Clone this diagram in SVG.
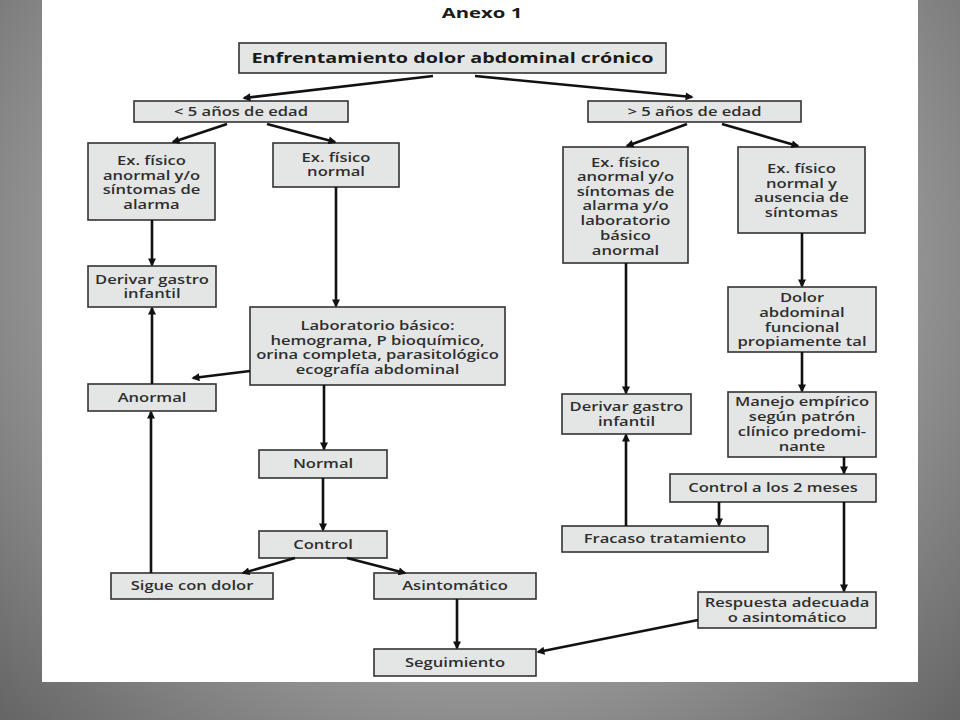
<svg xmlns="http://www.w3.org/2000/svg" width="960" height="720" viewBox="0 0 960 720">
<defs>
<radialGradient id="bg" cx="480" cy="260" r="720" gradientUnits="userSpaceOnUse">
<stop offset="0" stop-color="#b8b8b8"/>
<stop offset="0.55" stop-color="#9a9a9a"/>
<stop offset="1" stop-color="#5a5a5a"/>
</radialGradient>
<marker id="ah" viewBox="0 0 10 10" refX="8" refY="5" markerWidth="9" markerHeight="8" markerUnits="userSpaceOnUse" orient="auto">
<path d="M0,0 L10,5 L0,10 z" fill="#111"/>
</marker>
<style>
.box{fill:#e4e6e6;stroke:#333;stroke-width:1.6}
.t{font-family:"Open Sans","Liberation Sans",sans-serif;font-weight:600;font-size:12px;fill:#2e2e2e;text-anchor:middle}
.b{font-family:"Open Sans","Liberation Sans",sans-serif;font-weight:700;font-size:14px;fill:#1a1a1a;text-anchor:middle}
.c line{stroke:#111;stroke-width:2.6;fill:none}
.c .a{marker-end:url(#ah)}
</style>
</defs>
<rect x="0" y="0" width="960" height="720" fill="url(#bg)"/>
<rect x="42" y="0" width="876" height="682" fill="#ffffff"/>

<text class="b" transform="matrix(1.45 0 0 1 482 0)" font-size="13"><tspan x="0" y="18">Anexo 1</tspan></text>

<g id="n-main"><rect class="box" x="239" y="43" width="427" height="30"/>
<text class="b" transform="matrix(1.41 0 0 1 452.5 0)"><tspan x="0" y="63">Enfrentamiento dolor abdominal crónico</tspan></text></g>

<g id="n-menor5"><rect class="box" x="134" y="101" width="214" height="21"/>
<text class="t" transform="matrix(1.38 0 0 1 241 0)"><tspan x="0" y="116">&lt; 5 años de edad</tspan></text></g>

<g id="n-mayor5"><rect class="box" x="588" y="101" width="213" height="21"/>
<text class="t" transform="matrix(1.38 0 0 1 694.5 0)"><tspan x="0" y="116">&gt; 5 años de edad</tspan></text></g>

<g id="n-a1"><rect class="box" x="88" y="143" width="127" height="77"/>
<text class="t" transform="matrix(1.38 0 0 1 151.5 0)"><tspan x="0" y="165.5">Ex. físico</tspan><tspan x="0" y="180">anormal y/o</tspan><tspan x="0" y="194.5">síntomas de</tspan><tspan x="0" y="209">alarma</tspan></text></g>

<g id="n-a2"><rect class="box" x="273" y="143" width="126" height="44"/>
<text class="t" transform="matrix(1.38 0 0 1 336 0)"><tspan x="0" y="162">Ex. físico</tspan><tspan x="0" y="176.5">normal</tspan></text></g>

<g id="n-derivar1"><rect class="box" x="88" y="266" width="128" height="41"/>
<text class="t" transform="matrix(1.38 0 0 1 152 0)"><tspan x="0" y="284">Derivar gastro</tspan><tspan x="0" y="298.5">infantil</tspan></text></g>

<g id="n-lab"><rect class="box" x="250" y="307" width="255" height="78"/>
<text class="t" transform="matrix(1.38 0 0 1 377.5 0)"><tspan x="0" y="330.5">Laboratorio básico:</tspan><tspan x="0" y="345">hemograma, P bioquímico,</tspan><tspan x="0" y="359.5">orina completa, parasitológico</tspan><tspan x="0" y="374.5">ecografía abdominal</tspan></text></g>

<g id="n-anormal"><rect class="box" x="88" y="384" width="128" height="27"/>
<text class="t" transform="matrix(1.38 0 0 1 152 0)"><tspan x="0" y="402">Anormal</tspan></text></g>

<g id="n-normal"><rect class="box" x="259" y="450" width="128" height="28"/>
<text class="t" transform="matrix(1.38 0 0 1 323 0)"><tspan x="0" y="468.5">Normal</tspan></text></g>

<g id="n-control"><rect class="box" x="259" y="531" width="128" height="27"/>
<text class="t" transform="matrix(1.38 0 0 1 323 0)"><tspan x="0" y="549">Control</tspan></text></g>

<g id="n-sigue"><rect class="box" x="111" y="573" width="162" height="26"/>
<text class="t" transform="matrix(1.38 0 0 1 192 0)"><tspan x="0" y="590.5">Sigue con dolor</tspan></text></g>

<g id="n-asint"><rect class="box" x="374" y="573" width="162" height="26"/>
<text class="t" transform="matrix(1.38 0 0 1 455 0)"><tspan x="0" y="590.5">Asintomático</tspan></text></g>

<g id="n-seguimiento"><rect class="box" x="374" y="649" width="162" height="27"/>
<text class="t" transform="matrix(1.38 0 0 1 455 0)"><tspan x="0" y="667">Seguimiento</tspan></text></g>

<g id="n-b1"><rect class="box" x="563" y="147" width="125" height="116"/>
<text class="t" transform="matrix(1.38 0 0 1 625.5 0)"><tspan x="0" y="167">Ex. físico</tspan><tspan x="0" y="181.5">anormal y/o</tspan><tspan x="0" y="196">síntomas de</tspan><tspan x="0" y="210.5">alarma y/o</tspan><tspan x="0" y="225">laboratorio</tspan><tspan x="0" y="240">básico</tspan><tspan x="0" y="255">anormal</tspan></text></g>

<g id="n-b2"><rect class="box" x="738" y="147" width="127" height="86"/>
<text class="t" transform="matrix(1.38 0 0 1 801.5 0)"><tspan x="0" y="173.5">Ex. físico</tspan><tspan x="0" y="188">normal y</tspan><tspan x="0" y="202.5">ausencia de</tspan><tspan x="0" y="217">síntomas</tspan></text></g>

<g id="n-dolor"><rect class="box" x="728" y="287" width="148" height="65"/>
<text class="t" transform="matrix(1.38 0 0 1 802 0)"><tspan x="0" y="302.5">Dolor</tspan><tspan x="0" y="317.5">abdominal</tspan><tspan x="0" y="332">funcional</tspan><tspan x="0" y="346.5">propiamente tal</tspan></text></g>

<g id="n-manejo"><rect class="box" x="728" y="392" width="148" height="65"/>
<text class="t" transform="matrix(1.38 0 0 1 802 0)"><tspan x="0" y="406.5">Manejo empírico</tspan><tspan x="0" y="421.5">según patrón</tspan><tspan x="0" y="436.5">clínico predomi-</tspan><tspan x="0" y="451">nante</tspan></text></g>

<g id="n-derivar2"><rect class="box" x="562" y="394" width="129" height="40"/>
<text class="t" transform="matrix(1.38 0 0 1 626.5 0)"><tspan x="0" y="411">Derivar gastro</tspan><tspan x="0" y="426">infantil</tspan></text></g>

<g id="n-control2"><rect class="box" x="670" y="474" width="206" height="28"/>
<text class="t" transform="matrix(1.38 0 0 1 773 0)"><tspan x="0" y="492.5">Control a los 2 meses</tspan></text></g>

<g id="n-fracaso"><rect class="box" x="562" y="526" width="206" height="26"/>
<text class="t" transform="matrix(1.38 0 0 1 665 0)"><tspan x="0" y="543.5">Fracaso tratamiento</tspan></text></g>

<g id="n-respuesta"><rect class="box" x="698" y="592" width="178" height="36"/>
<text class="t" transform="matrix(1.38 0 0 1 787 0)"><tspan x="0" y="607.5">Respuesta adecuada</tspan><tspan x="0" y="622">o asintomático</tspan></text></g>

<g id="connectors" class="c">
<line class="a" x1="433" y1="76" x2="244" y2="98"/>
<line class="a" x1="475" y1="76" x2="692" y2="97"/>
<line class="a" x1="227" y1="124" x2="173" y2="142"/>
<line class="a" x1="267" y1="124" x2="335" y2="142"/>
<line class="a" x1="687" y1="124" x2="627" y2="146"/>
<line class="a" x1="722" y1="124" x2="798" y2="146"/>
<line class="a" x1="152" y1="220" x2="152" y2="265"/>
<line class="a" x1="336" y1="187" x2="336" y2="306"/>
<line class="a" x1="152" y1="384" x2="152" y2="308"/>
<line class="a" x1="250" y1="371" x2="193" y2="378"/>
<line class="a" x1="324" y1="385" x2="324" y2="449"/>
<line class="a" x1="323" y1="478" x2="323" y2="530"/>
<line class="a" x1="295" y1="558" x2="243" y2="573"/>
<line class="a" x1="347" y1="558" x2="405" y2="573"/>
<line class="a" x1="151" y1="573" x2="151" y2="412"/>
<line class="a" x1="457" y1="599" x2="457" y2="648"/>
<line class="a" x1="698" y1="620" x2="538" y2="652"/>
<line class="a" x1="626" y1="263" x2="626" y2="393"/>
<line class="a" x1="626" y1="526" x2="626" y2="435"/>
<line class="a" x1="802" y1="233" x2="802" y2="286"/>
<line class="a" x1="802" y1="352" x2="802" y2="391"/>
<line class="a" x1="844" y1="457" x2="844" y2="473"/>
<line class="a" x1="719" y1="502" x2="719" y2="525"/>
<line class="a" x1="844" y1="502" x2="844" y2="591"/>
</g>
</svg>
